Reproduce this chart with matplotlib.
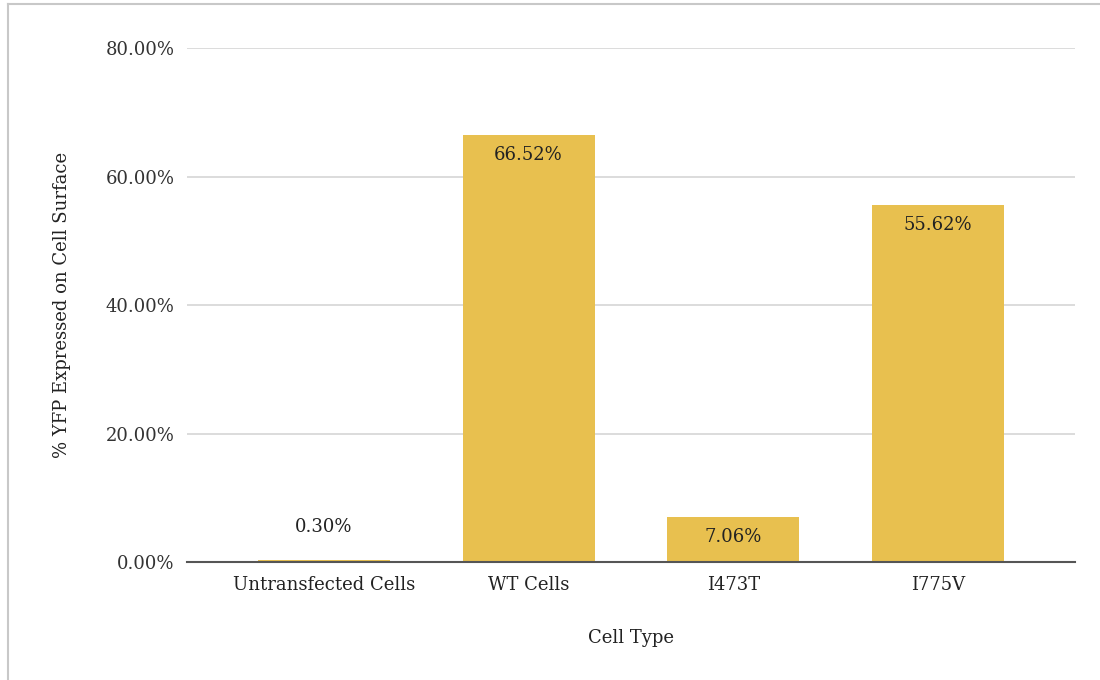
import matplotlib
matplotlib.use('Agg')
import matplotlib.pyplot as plt
from matplotlib.lines import Line2D

# data
cell_types = ['Untransfected Cells', 'WT Cells', 'I473T', 'I775V']
yfp_pct = [0.30, 66.52, 7.06, 55.62]
y_ticks = [0, 20, 40, 60, 80]

plt.rcParams['font.family'] = ['DejaVu Serif']

fig = plt.figure(figsize=(11, 6.8), dpi=100)
ax = fig.add_axes([0.17, 0.1735, 0.807, 0.7555])

bar_color = '#E8C04F'
x = list(range(len(cell_types)))
ax.bar(x, yfp_pct, width=0.645, color=bar_color, zorder=3)

fs = 13

# value labels: inside the top of tall bars, above the tiny one
for xi, v in zip(x, yfp_pct):
    if v < 3:
        ax.text(xi, v + 5.2, '%.2f%%' % v, ha='center', va='center', fontsize=fs, color='#222222', zorder=4)
    else:
        ax.text(xi, v - 3.2, '%.2f%%' % v, ha='center', va='center', fontsize=fs, color='#222222', zorder=4)

ax.set_xlim(-0.67, 3.67)
ax.set_ylim(0, 80)
ax.set_yticks(y_ticks)
ax.set_yticklabels(['%.2f%%' % t for t in y_ticks], fontsize=fs, color='#333333')
ax.set_xticks(x)
ax.set_xticklabels(cell_types, fontsize=fs, color='#222222')
ax.tick_params(axis='x', length=0, pad=10)
ax.tick_params(axis='y', length=0, pad=9)

ax.grid(axis='y', color='#D6D6D6', linewidth=1.2, zorder=0)
for s in ['top', 'right', 'left']:
    ax.spines[s].set_visible(False)
ax.spines['bottom'].set_color('#555555')
ax.spines['bottom'].set_linewidth(1.5)
ax.spines['bottom'].set_zorder(5)

ax.set_xlabel('Cell Type', fontsize=fs, color='#222222', labelpad=25)
ax.set_ylabel('% YFP Expressed on Cell Surface', fontsize=fs, color='#222222', labelpad=25)

# light frame on the left and top edges of the picture
fig.add_artist(Line2D([0.0075, 0.0075], [0, 0.994], transform=fig.transFigure, color='#C8C8C8', lw=1.5))
fig.add_artist(Line2D([0.0075, 1.0], [0.994, 0.994], transform=fig.transFigure, color='#C8C8C8', lw=1.5))

plt.savefig('out.png', dpi=100)
